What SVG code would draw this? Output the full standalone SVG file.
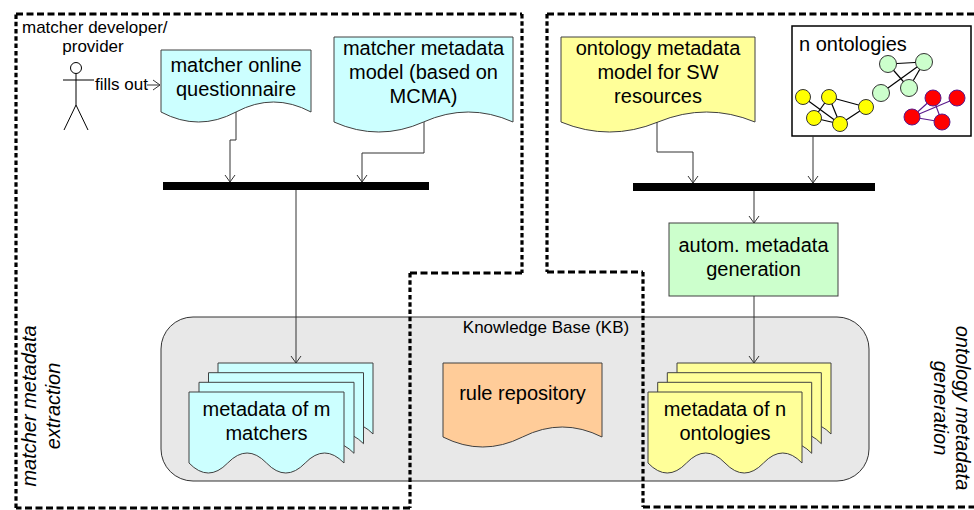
<svg xmlns="http://www.w3.org/2000/svg" width="974" height="510" viewBox="0 0 974 510">
  <defs>
    <style>
      text { font-family: "Liberation Sans", Arial, sans-serif; fill: #000; }
      .t20 { font-size: 20px; text-anchor: middle; }
      .t20s { font-size: 20px; text-anchor: start; }
      .t17 { font-size: 17px; }
      .side { font-size: 20px; font-style: italic; text-anchor: middle; }
      .doc { stroke: #404040; stroke-width: 1; }
      .cyan { fill: #ccffff; }
      .yellow { fill: #ffff99; }
      .orange { fill: #ffcc99; }
      .conn path { fill: none; stroke: #333; stroke-width: 1; }
      .bar { fill: #000; }
      .dash { fill: none; stroke: #000; stroke-width: 3.2; }
      .dh { stroke-dasharray: 7 3.5; }
      .dv { stroke-dasharray: 4.5 2.8; }
      .ey { fill: none; stroke: #000; stroke-width: 1.2; }
      .er { fill: none; stroke: #5a1a8c; stroke-width: 1.2; }
      .ny { fill: #ffff00; stroke: #333; stroke-width: 1; }
      .ng { fill: #ccffcc; stroke: #333; stroke-width: 1; }
      .nr { fill: #ff0000; stroke: #5a1a8c; stroke-width: 1; }
      .actor { fill: none; stroke: #000; stroke-width: 1; }
    </style>
    <marker id="arrow" markerUnits="userSpaceOnUse" markerWidth="14" markerHeight="14" refX="0" refY="0" viewBox="-8 -7 10 14" orient="auto" overflow="visible">
      <path d="M-7,-5 L0,0 L-7,5" fill="none" stroke="#333" stroke-width="1"/>
    </marker>
  </defs>

  <!-- Knowledge base container -->
  <g id="kb">
    <rect x="161" y="317" width="708" height="164" rx="32" ry="32" fill="#e8e8e8" stroke="#333" stroke-width="1"/>
    <text class="t17" x="546" y="333" text-anchor="middle">Knowledge Base (KB)</text>
  </g>

  <!-- Actor -->
  <g id="actor">
    <text class="t17" x="22" y="33">matcher developer/</text>
    <text class="t17" x="93" y="52" text-anchor="middle">provider</text>
    <circle class="actor" cx="76" cy="68" r="5.5"/>
    <line class="actor" x1="76" y1="73.5" x2="76" y2="105"/>
    <line class="actor" x1="63" y1="80" x2="94" y2="80"/>
    <line class="actor" x1="76" y1="105" x2="64" y2="130"/>
    <line class="actor" x1="76" y1="105" x2="88" y2="130"/>
    <text class="t17" x="95" y="90">fills out</text>
  </g>

  <!-- Documents -->
  <g id="questionnaire">
    <path class="doc cyan" d="M161,50 H311 V112 Q273.5,92 236,112 Q198.5,132 161,112 Z"/>
    <text class="t20" x="236" y="72">matcher online</text>
    <text class="t20" x="236" y="96">questionnaire</text>
  </g>

  <g id="matcher-model">
    <path class="doc cyan" d="M334,37 H513 V122 Q468.25,102 423.5,122 Q378.75,142 334,122 Z"/>
    <text class="t20" x="423.5" y="55">matcher metadata</text>
    <text class="t20" x="423.5" y="79">model (based on</text>
    <text class="t20" x="423.5" y="103">MCMA)</text>
  </g>

  <g id="ontology-model">
    <path class="doc yellow" d="M561,37 H755 V122 Q706.5,102 658,122 Q609.5,142 561,122 Z"/>
    <text class="t20" x="658" y="55">ontology metadata</text>
    <text class="t20" x="658" y="79">model for SW</text>
    <text class="t20" x="658" y="103">resources</text>
  </g>

  <g id="ontologies">
    <rect x="792" y="26" width="179" height="110" fill="#fff" stroke="#000" stroke-width="1.5"/>
    <text class="t20s" x="799" y="51">n ontologies</text>
    <!-- yellow graph -->
    <line class="ey" x1="803" y1="97" x2="840" y2="124"/>
    <line class="ey" x1="829" y1="97" x2="814" y2="118"/>
    <line class="ey" x1="829" y1="97" x2="840" y2="124"/>
    <line class="ey" x1="829" y1="97" x2="866" y2="107"/>
    <line class="ey" x1="866" y1="107" x2="840" y2="124"/>
    <line class="ey" x1="814" y1="118" x2="840" y2="124"/>
    <circle class="ny" cx="803" cy="97" r="7.5"/>
    <circle class="ny" cx="829" cy="97" r="7.5"/>
    <circle class="ny" cx="866" cy="107" r="7.5"/>
    <circle class="ny" cx="814" cy="118" r="7.5"/>
    <circle class="ny" cx="840" cy="124" r="7.5"/>
    <!-- green graph -->
    <line class="ey" x1="888" y1="64" x2="924" y2="62"/>
    <line class="ey" x1="888" y1="64" x2="909" y2="88"/>
    <line class="ey" x1="924" y1="62" x2="881" y2="93"/>
    <line class="ey" x1="924" y1="62" x2="909" y2="88"/>
    <circle class="ng" cx="888" cy="64" r="8.5"/>
    <circle class="ng" cx="924" cy="62" r="8.5"/>
    <circle class="ng" cx="881" cy="93" r="8.5"/>
    <circle class="ng" cx="909" cy="88" r="8.5"/>
    <!-- red graph -->
    <line class="er" x1="933" y1="98" x2="912" y2="117"/>
    <line class="er" x1="933" y1="98" x2="942" y2="122"/>
    <line class="er" x1="957" y1="98" x2="912" y2="117"/>
    <line class="er" x1="912" y1="117" x2="942" y2="122"/>
    <circle class="nr" cx="933" cy="98" r="8"/>
    <circle class="nr" cx="957" cy="98" r="8"/>
    <circle class="nr" cx="912" cy="117" r="8"/>
    <circle class="nr" cx="942" cy="122" r="8"/>
  </g>

  <!-- Synchronisation bars -->
  <g id="bar-matcher"><rect class="bar" x="163" y="182" width="266" height="8"/></g>
  <g id="bar-ontology"><rect class="bar" x="633" y="183" width="242" height="8"/></g>

  <g id="autom">
    <rect x="669" y="223" width="169" height="73" fill="#ccffcc" stroke="#404040" stroke-width="1"/>
    <text class="t20" x="753.5" y="252">autom. metadata</text>
    <text class="t20" x="753.5" y="276">generation</text>
  </g>

  <!-- Stacked documents inside the KB -->
  <g id="matcher-metadata">
    <path class="doc cyan" d="M218,363 h155 v71 q-19.4,-20 -38.8,0 q-19.4,20 -38.7,0 q-19.4,-20 -38.8,0 q-19.4,20 -38.7,0 Z"/>
    <path class="doc cyan" d="M208.5,372.7 h155 v71 q-19.4,-20 -38.8,0 q-19.4,20 -38.7,0 q-19.4,-20 -38.8,0 q-19.4,20 -38.7,0 Z"/>
    <path class="doc cyan" d="M199,382.3 h155 v71 q-19.4,-20 -38.8,0 q-19.4,20 -38.7,0 q-19.4,-20 -38.8,0 q-19.4,20 -38.7,0 Z"/>
    <path class="doc cyan" d="M189,392 h155 v71 q-19.4,-20 -38.8,0 q-19.4,20 -38.7,0 q-19.4,-20 -38.8,0 q-19.4,20 -38.7,0 Z"/>
    <text class="t20" x="266.5" y="416">metadata of m</text>
    <text class="t20" x="266.5" y="440">matchers</text>
  </g>

  <g id="rule-repository">
    <path class="doc orange" d="M443,363 H602 V437 Q562.25,417 522.5,437 Q482.75,457 443,437 Z"/>
    <text class="t20" x="522.5" y="400">rule repository</text>
  </g>

  <g id="ontology-metadata">
    <path class="doc yellow" d="M677,363 h154 v71 q-19.25,-20 -38.5,0 q-19.25,20 -38.5,0 q-19.25,-20 -38.5,0 q-19.25,20 -38.5,0 Z"/>
    <path class="doc yellow" d="M667.3,372.7 h154 v71 q-19.25,-20 -38.5,0 q-19.25,20 -38.5,0 q-19.25,-20 -38.5,0 q-19.25,20 -38.5,0 Z"/>
    <path class="doc yellow" d="M657.7,382.3 h154 v71 q-19.25,-20 -38.5,0 q-19.25,20 -38.5,0 q-19.25,-20 -38.5,0 q-19.25,20 -38.5,0 Z"/>
    <path class="doc yellow" d="M648,392 h154 v71 q-19.25,-20 -38.5,0 q-19.25,20 -38.5,0 q-19.25,-20 -38.5,0 q-19.25,20 -38.5,0 Z"/>
    <text class="t20" x="725" y="416">metadata of n</text>
    <text class="t20" x="725" y="440">ontologies</text>
  </g>

  <!-- Connectors -->
  <g id="connectors" class="conn">
    <path d="M147,85 H160" marker-end="url(#arrow)"/>
    <path d="M236,112 V140 H230 V182" marker-end="url(#arrow)"/>
    <path d="M424,122 V153 H362 V182" marker-end="url(#arrow)"/>
    <path d="M296,190 V363" marker-end="url(#arrow)"/>
    <path d="M657,122 V152 H693 V183" marker-end="url(#arrow)"/>
    <path d="M813,136 V183" marker-end="url(#arrow)"/>
    <path d="M754,191 V223" marker-end="url(#arrow)"/>
    <path d="M754,296 V363" marker-end="url(#arrow)"/>
  </g>

  <!-- Swimlane boundaries -->
  <g id="lane-matcher">
    <path class="dash dh" d="M16,14 H522"/>
    <path class="dash dv" d="M522,14 V273"/>
    <path class="dash dh" d="M522,273 H410"/>
    <path class="dash dv" d="M410,273 V508"/>
    <path class="dash dh" d="M410,508 H16"/>
    <path class="dash dv" d="M16,508 V14"/>
    <text class="side" transform="translate(36,406) rotate(-90)" x="0" y="0">matcher metadata</text>
    <text class="side" transform="translate(36,406) rotate(-90)" x="0" y="24">extraction</text>
  </g>
  <g id="lane-ontology">
    <path class="dash dh" d="M547,14 H974"/>
    <path class="dash dv" d="M547,14 V272"/>
    <path class="dash dh" d="M547,272 H643"/>
    <path class="dash dv" d="M643,272 V507"/>
    <path class="dash dh" d="M643,507 H974"/>
    <text class="side" transform="translate(956,408) rotate(90)" x="0" y="0">ontology metadata</text>
    <text class="side" transform="translate(956,408) rotate(90)" x="0" y="22">generation</text>
  </g>
</svg>
